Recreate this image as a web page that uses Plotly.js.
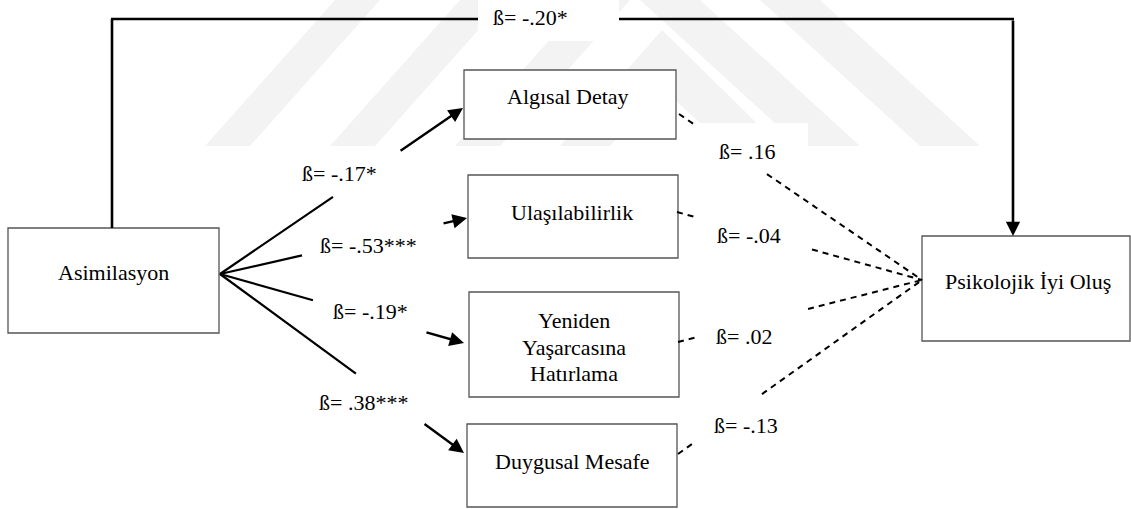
<!DOCTYPE html>
<html>
<head>
<meta charset="utf-8">
<script src="https://cdn.plot.ly/plotly-3.0.1.min.js"></script>
<style>html,body{margin:0;padding:0;background:#fff;}#chart{width:1131px;height:509px;}</style>
</head>
<body>
<div id="chart"></div>
<script>
// ---------- DATA ----------
const predictor = 'Asimilasyon';
const outcome = 'Psikolojik İyi Oluş';
const mediators = ['Algısal Detay', 'Ulaşılabilirlik', 'Yeniden<br>Yaşarcasına<br>Hatırlama', 'Duygusal Mesafe'];
const betaA = [-0.17, -0.53, -0.19, 0.38];      // predictor -> mediator
const sigA = ['*', '***', '*', '***'];
const betaB = [0.16, -0.04, 0.02, -0.13];       // mediator -> outcome
const sigB = ['', '', '', ''];
const betaC = -0.20;                             // direct effect
const sigC = '*';

// ---------- GEOMETRY (layout only) ----------
const predBox = [8, 219, 228, 333];              // x0,x1,y0,y1
const predText = [113, 272];
const outBox = [922, 1130, 236, 341];
const outText = [1028, 281];
const medBoxes = [[464, 676, 70, 139], [468, 678, 175, 258], [469, 679, 292, 397], [467, 677, 424, 507]];
const medText = [[568, 96], [572, 212], [574, 347], [572, 461]];
const lineStep = 26.5;
const srcPt = [220, 274];
const aTargets = [[463, 108], [467, 218], [464, 343], [464, 453]];
const aGaps = [[0.465, 0.737], [0.332, 0.899], [0.381, 0.840], [0.557, 0.832]];
const aLabelPos = [[339, 173], [368, 245], [370, 311], [363, 402]];
const outPt = [922, 280];
const bStarts = [[679, 114], [677, 212], [678, 342], [678, 454]];
const bGaps = [[0.074, 0.362], [0.082, 0.551], [0.078, 0.533], [0.066, 0.344]];
const bLabelPos = [[747, 151], [749, 235], [744, 336], [746, 425]];
const topY = 19, leftX = 112, rightX = 1013;
const cGap = [478, 619];
const cLabelPos = [530, 17];

function fmt(v, s) {
  const a = Math.abs(v).toFixed(2).replace(/^0/, '');
  return 'ß= ' + (v < 0 ? '-' : '') + a + s;
}
function lerp(p, q, t) { return [p[0] + (q[0] - p[0]) * t, p[1] + (q[1] - p[1]) * t]; }

const FONT = {family: '"Liberation Serif", "DejaVu Serif", serif', size: 22, color: '#000'};
const shapes = [];
const annotations = [];

// faint watermark bands
const wm = '#f3f3f3';
const bands = [
  'M 205 146 L 250 146 L 380 0 L 335 0 Z',
  'M 330 146 L 375 146 L 505 0 L 460 0 Z',
  'M 455 146 L 500 146 L 630 0 L 585 0 Z',
  'M 560 146 L 610 146 L 662 88 L 725 146 L 780 146 L 662 30 Z',
  'M 640 0 L 700 0 L 860 146 L 800 146 Z',
  'M 760 0 L 820 0 L 980 146 L 920 146 Z'
];
bands.forEach(p => shapes.push({type: 'path', path: p, fillcolor: wm, line: {width: 0}, layer: 'below'}));

// white label backgrounds
shapes.push({type: 'rect', x0: cGap[0], x1: cGap[1], y0: 0, y1: 41, fillcolor: '#fff', line: {width: 0}, layer: 'below'});
shapes.push({type: 'rect', x0: 698, x1: 808, y0: 123, y1: 170, fillcolor: '#fff', line: {width: 0}, layer: 'below'});

// boxes
function box(b) {
  shapes.push({type: 'rect', x0: b[0], x1: b[1], y0: b[2], y1: b[3], fillcolor: '#fff', line: {color: '#555', width: 1.3}});
}
box(predBox); box(outBox); medBoxes.forEach(box);

annotations.push({x: predText[0], y: predText[1], text: predictor, showarrow: false, font: FONT});
annotations.push({x: outText[0], y: outText[1], text: outcome, showarrow: false, font: FONT});
mediators.forEach((m, i) => {
  const lines = m.split('<br>');
  lines.forEach((ln, k) => {
    const y = medText[i][1] + (k - (lines.length - 1) / 2) * lineStep;
    annotations.push({x: medText[i][0], y: y, text: ln, showarrow: false, font: FONT});
  });
});

// direct path
const lw = 2.6;
shapes.push({type: 'line', x0: leftX, y0: predBox[2], x1: leftX, y1: topY, line: {color: '#000', width: lw}});
shapes.push({type: 'line', x0: leftX - 1, y0: topY, x1: cGap[0], y1: topY, line: {color: '#000', width: lw}});
shapes.push({type: 'line', x0: cGap[1], y0: topY, x1: rightX + 1, y1: topY, line: {color: '#000', width: lw}});
annotations.push({x: rightX, y: outBox[2], ax: rightX, ay: topY, axref: 'x', ayref: 'y', xref: 'x', yref: 'y',
  text: '', showarrow: true, arrowhead: 2, arrowsize: 1.1, arrowwidth: lw, arrowcolor: '#000', standoff: 0});
annotations.push({x: cLabelPos[0], y: cLabelPos[1], text: fmt(betaC, sigC), showarrow: false, font: FONT});

// a paths
aTargets.forEach((tg, i) => {
  const p1 = lerp(srcPt, tg, aGaps[i][0]);
  const p2 = lerp(srcPt, tg, aGaps[i][1]);
  shapes.push({type: 'line', x0: srcPt[0], y0: srcPt[1], x1: p1[0], y1: p1[1], line: {color: '#000', width: 2.2}});
  annotations.push({x: tg[0], y: tg[1], ax: p2[0], ay: p2[1], axref: 'x', ayref: 'y', xref: 'x', yref: 'y',
    text: '', showarrow: true, arrowhead: 2, arrowsize: 1.2, arrowwidth: 2.4, arrowcolor: '#000', standoff: 0});
  annotations.push({x: aLabelPos[i][0], y: aLabelPos[i][1], text: fmt(betaA[i], sigA[i]), showarrow: false, font: FONT});
});

// b paths (dashed)
bStarts.forEach((st, i) => {
  const p1 = lerp(st, outPt, bGaps[i][0]);
  const p2 = lerp(st, outPt, bGaps[i][1]);
  shapes.push({type: 'line', x0: st[0], y0: st[1], x1: p1[0], y1: p1[1], line: {color: '#000', width: 2, dash: '6px,5px'}});
  shapes.push({type: 'line', x0: p2[0], y0: p2[1], x1: outPt[0], y1: outPt[1], line: {color: '#000', width: 2, dash: '6px,5px'}});
  annotations.push({x: bLabelPos[i][0], y: bLabelPos[i][1], text: fmt(betaB[i], sigB[i]), showarrow: false, font: FONT});
});

const layout = {
  width: 1131, height: 509,
  margin: {l: 0, r: 0, t: 0, b: 0},
  paper_bgcolor: '#fff', plot_bgcolor: '#fff',
  font: FONT,
  xaxis: {range: [0, 1131], visible: false, fixedrange: true},
  yaxis: {range: [509, 0], visible: false, fixedrange: true},
  showlegend: false,
  shapes: shapes,
  annotations: annotations
};
Plotly.newPlot('chart', [], layout, {displayModeBar: false, staticPlot: true});
</script>
</body>
</html>
